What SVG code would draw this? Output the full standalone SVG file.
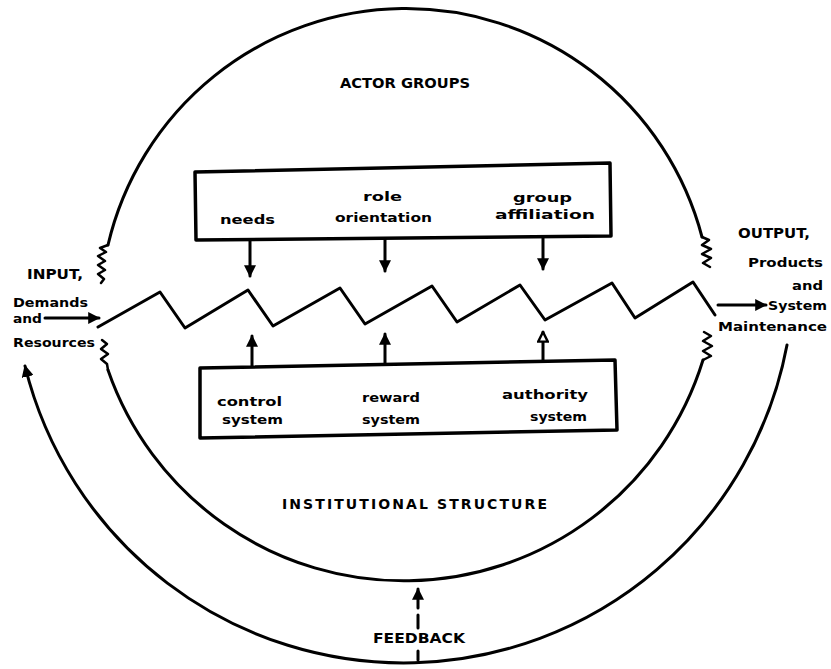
<svg xmlns="http://www.w3.org/2000/svg" width="831" height="669" viewBox="0 0 831 669">
<defs>
<style>
.ln{fill:none;stroke:#000;stroke-width:3;stroke-linecap:round;stroke-linejoin:round}
.thin{fill:none;stroke:#000;stroke-width:2.5;stroke-linecap:round;stroke-linejoin:round}
.t{font-family:"DejaVu Sans","Liberation Sans",sans-serif;font-weight:bold;fill:#000;font-size:13px}
.c{font-family:"DejaVu Sans","Liberation Sans",sans-serif;font-weight:bold;fill:#000;font-size:14px}
.box{fill:#fff;stroke:#000;stroke-width:3.5;stroke-linejoin:round}
</style>
<marker id="ah" viewBox="0 0 10 10" refX="9" refY="5" markerWidth="4" markerHeight="4" orient="auto" markerUnits="strokeWidth">
<path d="M0,0 L10,5 L0,10 Z" fill="#000"/>
</marker>
<marker id="ahw" viewBox="0 0 10 10" refX="9" refY="5" markerWidth="4" markerHeight="4" orient="auto" markerUnits="strokeWidth">
<path d="M1,1 L9,5 L1,9 Z" fill="#fff" stroke="#000" stroke-width="2"/>
</marker>
</defs>
<rect width="831" height="669" fill="#fff"/>

<g id="connectors">
<path id="top-arc" class="ln" d="M108,245 A306,306 0 0,1 702,237"/>
<path class="thin" d="M108,245 L100,248 L106,252 L98,256 L105,261 L98,265 L105,270 L98,274 L104,279 L101,283"/>
<path class="thin" d="M702,237 L709,240 L702,245 L711,249 L702,254 L711,258 L703,263 L710,267"/>
<path id="inner-arc" class="ln" d="M108,370 A313,313 0 0,0 703,360"/>
<path class="thin" d="M102,340 L107,344 L101,349 L108,354 L101,359 L107,364 L108,370"/>
<path class="thin" d="M703,360 L711,356 L703,351 L712,346 L703,341 L711,336 L704,332"/>
<path id="feedback-arc" class="ln" d="M787,345 A390,390 0 0,1 25,366" marker-end="url(#ah)"/>
<polyline id="zigzag" class="ln" points="98,327 160,292 185,328 248,290 273,326 340,288 365,324 432,286 457,322 520,285 545,320 612,283 635,318 693,282 715,315"/>
<line class="ln" x1="45" y1="318" x2="99" y2="318" marker-end="url(#ah)"/>
<line class="ln" x1="718" y1="305" x2="766" y2="305" marker-end="url(#ah)"/>
<line class="ln" x1="250" y1="240" x2="250" y2="276" marker-end="url(#ah)"/>
<line class="ln" x1="385" y1="238" x2="385" y2="271" marker-end="url(#ah)"/>
<line class="ln" x1="543" y1="236" x2="543" y2="269" marker-end="url(#ah)"/>
<line class="ln" x1="252" y1="367" x2="252" y2="336" marker-end="url(#ah)"/>
<line class="ln" x1="385" y1="364" x2="385" y2="334" marker-end="url(#ah)"/>
<line class="ln" x1="543" y1="362" x2="543" y2="332" marker-end="url(#ahw)"/>
<line class="ln" x1="418" y1="660" x2="418" y2="651"/>
<line class="ln" x1="418" y1="628" x2="418" y2="615"/>
<line class="ln" x1="418" y1="608" x2="418" y2="589" marker-end="url(#ah)"/>
</g>

<g id="actor-groups-box">
<polygon class="box" points="195,172 610,163 611,236 196,240"/>
<text class="t" x="220" y="224" textLength="55" lengthAdjust="spacingAndGlyphs">needs</text>
<text class="t" x="363" y="201" textLength="39" lengthAdjust="spacingAndGlyphs">role</text>
<text class="t" x="335" y="222" textLength="97" lengthAdjust="spacingAndGlyphs">orientation</text>
<text class="t" x="513" y="202" textLength="59" lengthAdjust="spacingAndGlyphs">group</text>
<text class="t" x="495" y="219" textLength="100" lengthAdjust="spacingAndGlyphs">affiliation</text>
</g>

<g id="institutional-box">
<polygon class="box" points="200,368 615,360 617,430 200,438"/>
<text class="t" x="217" y="406" textLength="65" lengthAdjust="spacingAndGlyphs">control</text>
<text class="t" x="222" y="424" textLength="61" lengthAdjust="spacingAndGlyphs">system</text>
<text class="t" x="362" y="402" textLength="58" lengthAdjust="spacingAndGlyphs">reward</text>
<text class="t" x="362" y="424" textLength="58" lengthAdjust="spacingAndGlyphs">system</text>
<text class="t" x="502" y="399" textLength="86" lengthAdjust="spacingAndGlyphs">authority</text>
<text class="t" x="530" y="421" textLength="57" lengthAdjust="spacingAndGlyphs">system</text>
</g>

<g id="actor-groups-label">
<text class="c" x="340" y="88" textLength="130" lengthAdjust="spacingAndGlyphs">ACTOR GROUPS</text>
</g>
<g id="institutional-label">
<text class="c" x="282" y="509" textLength="265" lengthAdjust="spacing">INSTITUTIONAL STRUCTURE</text>
</g>
<g id="feedback-label">
<text class="c" x="373" y="643" textLength="92" lengthAdjust="spacingAndGlyphs">FEEDBACK</text>
</g>
<g id="input">
<text class="c" x="27" y="279" textLength="56" lengthAdjust="spacingAndGlyphs">INPUT,</text>
<text class="t" x="13" y="307" textLength="75" lengthAdjust="spacingAndGlyphs">Demands</text>
<text class="t" x="13" y="323" textLength="29" lengthAdjust="spacingAndGlyphs">and</text>
<text class="t" x="13" y="347" textLength="82" lengthAdjust="spacingAndGlyphs">Resources</text>
</g>
<g id="output">
<text class="c" x="738" y="238" textLength="72" lengthAdjust="spacingAndGlyphs">OUTPUT,</text>
<text class="t" x="748" y="267" textLength="75" lengthAdjust="spacingAndGlyphs">Products</text>
<text class="t" x="792" y="290" textLength="31" lengthAdjust="spacingAndGlyphs">and</text>
<text class="t" x="768" y="310" textLength="59" lengthAdjust="spacingAndGlyphs">System</text>
<text class="t" x="718" y="331" textLength="109" lengthAdjust="spacingAndGlyphs">Maintenance</text>
</g>
</svg>
